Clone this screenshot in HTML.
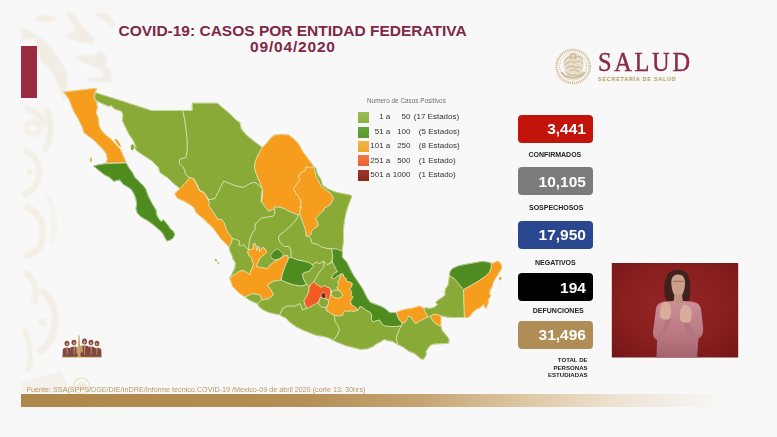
<!DOCTYPE html>
<html><head><meta charset="utf-8"><title>COVID-19</title>
<style>
html,body{margin:0;padding:0;background:#f7f7f7;}
body{width:777px;height:437px;position:relative;overflow:hidden;font-family:"Liberation Sans",sans-serif;}
.abs{position:absolute;white-space:nowrap;line-height:1;}
#slide{position:absolute;left:21px;top:12px;width:756px;height:395px;background:#f8f8f8;}
#bar{position:absolute;left:21px;top:46px;width:16px;height:52px;background:#9c2a40;}
#t1,#t2{color:#7f2846;font-weight:bold;font-size:15.5px;}
#t1{left:118.5px;top:23px;}
#t2{left:250px;top:39px;letter-spacing:0.82px;}
svg{position:absolute;left:0;top:0;}
.box{position:absolute;left:518.2px;width:74.8px;height:27.5px;border-radius:4px;color:#fff;font-weight:bold;font-size:15.5px;}
.box span{position:absolute;right:7px;top:6.3px;line-height:1;}
.lab{color:#222;font-weight:bold;font-size:7px;}
.lg{color:#333;font-size:8px;}
.sw{position:absolute;left:357.8px;width:11.4px;height:11px;}
#salud{left:598px;top:47.5px;font-family:"Liberation Serif",serif;font-size:28px;color:#8a2a46;letter-spacing:3.1px;-webkit-text-stroke:0.45px #8a2a46;transform:scaleX(0.87);transform-origin:0 0;}
#sec{left:598px;top:76.8px;font-size:5.5px;font-weight:bold;color:#b59c62;letter-spacing:0.72px;}
#fuente{left:26.7px;top:385.7px;font-size:7.19px;color:#b8965e;}
#gold{position:absolute;left:21.2px;top:394px;width:700px;height:12.8px;background:linear-gradient(90deg,#b0874a 0%,#b58e55 40%,#c5a473 57%,#dcc5a1 71%,#efe4d4 86%,#f7f7f7 100%);}
</style></head><body>
<div id="slide"></div>
<svg width="777" height="437" viewBox="0 0 777 437">
<defs><filter id="pb" x="-20%" y="-5%" width="140%" height="110%"><feGaussianBlur stdDeviation="0.9"/></filter></defs>
<g id="pattern" opacity="0.85" filter="url(#pb)">
<g fill="#f0ebe2" stroke="none">
<polygon points="21.2,27.3 30.4,31.2 40.7,37.6 49.7,46.6 57.5,56.9 62.6,64.0 66.5,70.3 67.8,79.3 66.5,89.6 64.5,102.5 60.0,89.6 54.9,78.0 48.5,67.7 40.7,60.0 36.2,46.6 36.2,38.9 21.2,38.9"/>
<ellipse cx="45.5" cy="18.6" rx="11.3" ry="3.6"/>
<polygon points="64.5,13.1 72.9,13.1 81.9,24.7 92.2,37.6 95.4,41.5 92.2,44.0 81.9,42.7 70.3,38.9 63.9,35.7 70.3,33.7 75.5,29.9 71.6,22.2"/>
<polygon points="93.5,13.1 107.7,13.1 115.0,22.2 115.0,28.6 105.1,20.9"/>
<polygon points="74.2,56.9 81.9,55.0 92.2,55.6 99.9,51.8 105.1,54.3 107.7,64.0 105.1,65.1 111.5,70.3 111.5,81.9 97.4,81.9 87.1,80.6 84.5,79.3 92.2,78.0 102.5,76.7 103.8,72.9 97.4,67.7 87.1,63.9 76.8,60.0 79.4,60.8"/>
</g>
<g fill="none" stroke="#efe9dd" stroke-linecap="butt" opacity="0.75">
<path d="M24 108 C34 110 42 116 46 126" stroke-width="6"/>
<circle cx="33" cy="128" r="6.5" stroke-width="5"/>
<path d="M46 108 C52 120 52 140 44 152" stroke-width="6"/>
<path d="M24 150 C36 154 42 166 38 180 C35 190 28 194 22 194" stroke-width="6"/>
<circle cx="30" cy="172" r="3" fill="#efe9dd" stroke="none"/>
<path d="M24 206 C38 210 46 224 42 240 C40 250 32 256 24 256" stroke-width="6"/>
<path d="M48 196 C54 208 56 226 52 244" stroke-width="5" opacity="0.7"/>
<path d="M24 272 C34 276 38 290 34 304" stroke-width="6"/>
<path d="M40 290 C52 296 58 312 54 330 C52 340 46 348 38 352" stroke-width="7"/>
<circle cx="42" cy="322" r="3.5" fill="#efe9dd" stroke="none"/>
<path d="M24 330 C30 340 32 356 28 372" stroke-width="5"/>
<path d="M22 382 L60 372 L72 392 L22 392 Z" fill="#efe9dd" stroke="none" opacity="0.8"/>
</g>
</g>
<g stroke="#e2ecc6" stroke-width="0.65" stroke-linejoin="round">
<polygon points="63.7,92.0 97.0,88.2 94.7,92.7 94.1,97.9 96.7,102.4 97.3,108.2 96.0,112.7 98.0,117.2 98.6,122.3 99.3,126.2 101.2,130.0 104.4,133.9 107.6,136.5 111.5,139.7 114.9,143.7 119.9,148.7 122.4,153.7 124.4,158.6 126.2,162.9 106.2,162.9 107.4,158.6 106.2,153.7 102.4,148.7 97.5,143.7 93.7,139.9 88.7,136.2 83.7,132.4 82.5,127.4 80.0,122.4 77.5,117.5 73.7,111.2 71.2,105.0 68.7,98.7" fill="#f79d1e" stroke="#f79d1e" stroke-width="0.9"/>
<polygon points="93.7,166.2 97.5,165.0 104.9,163.7 126.2,163.0 128.7,167.5 132.4,172.5 134.9,177.5 139.9,182.4 143.6,186.2 145.7,188.9 147.0,192.7 148.3,196.6 150.2,199.8 152.1,203.7 154.1,206.9 156.0,210.1 156.6,214.6 158.6,218.5 161.1,221.7 163.1,219.7 165.6,222.3 168.2,225.5 170.1,228.8 173.4,231.3 174.6,234.5 173.4,237.8 170.1,240.1 166.9,241.0 165.0,237.8 163.1,233.9 160.5,230.7 156.6,227.5 152.8,224.3 148.3,221.0 143.8,218.5 139.9,215.9 137.3,212.7 136.0,208.8 136.7,204.3 136.0,199.2 134.1,194.0 131.5,189.5 127.7,186.9 124.5,185.0 123.7,184.9 119.9,179.9 113.7,181.2 109.9,177.5 104.9,175.0 99.9,171.2" fill="#4f8c20" stroke="#4f8c20" stroke-width="0.9"/>
<polygon points="95.0,92.5 122.4,101.2 151.1,110.5 182.8,110.5 184.8,119.9 186.1,129.9 187.3,139.9 187.3,149.9 186.1,157.4 179.8,159.4 179.3,163.6 183.6,167.4 186.1,174.9 189.8,178.1 184.8,183.7 179.8,188.7 178.6,187.4 172.4,182.4 167.4,177.5 159.9,172.5 158.6,167.5 152.4,161.2 144.9,156.2 137.4,151.2 132.4,145.0 136.2,147.4 133.7,141.2 128.7,133.7 126.3,128.8 124.4,124.9 122.4,120.4 123.1,115.2 121.8,111.4 117.9,110.1 114.1,108.8 111.5,105.6 108.3,106.2 103.8,104.3 98.6,101.7 94.7,99.2" fill="#89aa37" stroke="#89aa37" stroke-width="0.9"/>
<polygon points="182.8,110.5 192.3,110.5 192.3,103.2 217.3,103.2 222.3,107.5 229.8,113.7 237.3,121.2 239.9,122.5 241.2,128.7 246.2,135.0 252.4,139.9 258.7,144.9 262.4,147.4 258.7,153.7 255.4,161.2 254.4,167.4 256.2,173.7 259.4,181.1 262.4,189.4 259.9,186.1 254.9,182.4 249.9,183.6 243.7,187.4 236.2,186.1 230.0,183.6 223.7,181.1 221.2,186.1 217.5,193.6 215.0,198.6 208.7,199.9 203.7,192.4 200.0,191.1 193.6,178.7 189.8,177.5 189.8,178.1 186.1,174.9 183.6,167.4 179.3,163.6 179.8,159.4 186.1,157.4 187.3,149.9 187.3,139.9 186.1,129.9 184.8,119.9" fill="#89aa37" stroke="#89aa37" stroke-width="0.9"/>
<polygon points="262.4,147.4 267.4,142.4 271.2,137.5 274.9,135.0 282.4,134.5 288.6,135.0 293.6,138.7 297.4,142.4 299.9,146.2 302.4,151.2 306.1,156.2 309.9,161.2 313.6,166.2 311.1,167.9 306.1,166.9 304.9,171.2 301.1,172.4 298.6,176.2 299.9,179.9 296.1,184.9 293.6,188.6 296.1,193.6 299.9,198.6 301.1,203.6 299.9,207.4 301.5,206.6 300.2,210.4 299.6,214.3 297.7,214.9 293.2,213.0 288.0,211.1 284.2,208.5 279.0,207.2 273.9,207.2 274.9,208.7 268.6,211.2 263.6,205.0 261.1,200.0 262.4,190.0 261.2,202.4 262.4,194.9 262.4,189.4 259.4,181.1 256.2,173.7 254.4,167.4 255.4,161.2 258.7,153.7" fill="#f79d1e" stroke="#f79d1e" stroke-width="0.9"/>
<polygon points="313.6,166.2 314.9,171.2 316.1,176.2 318.6,181.1 321.1,186.1 326.1,189.9 331.1,193.6 333.6,198.6 331.1,203.6 330.5,204.7 327.3,206.6 324.1,208.5 323.4,211.1 320.8,213.0 318.3,215.6 315.7,218.8 317.6,222.0 318.3,225.9 313.8,229.1 311.2,231.7 311.8,233.6 308.6,236.4 306.0,236.2 305.4,229.7 303.5,224.6 301.5,219.5 299.6,214.3 300.2,210.4 301.5,206.6 299.9,207.4 301.1,203.6 299.9,198.6 296.1,193.6 293.6,188.6 296.1,184.9 299.9,179.9 298.6,176.2 301.1,172.4 304.9,171.2 306.1,166.9 311.1,167.9" fill="#f79d1e" stroke="#f79d1e" stroke-width="0.9"/>
<polygon points="313.6,166.2 316.1,168.7 317.3,173.7 321.1,179.9 322.3,184.9 327.3,188.6 334.8,191.9 342.3,193.6 349.8,194.9 351.8,196.1 350.4,200.1 347.9,206.6 345.9,213.0 344.6,219.5 343.6,227.2 343.4,233.6 343.6,240.0 342.7,246.5 342.1,251.1 340.1,250.3 336.9,249.1 331.8,248.8 326.6,248.4 321.5,247.1 318.3,244.5 314.4,243.9 311.2,242.6 311.2,239.4 308.6,236.4 311.8,233.6 311.2,231.7 313.8,229.1 318.3,225.9 317.6,222.0 315.7,218.8 318.3,215.6 320.8,213.0 323.4,211.1 324.1,208.5 327.3,206.6 330.5,204.7 331.1,203.6 333.6,198.6 331.1,193.6 326.1,189.9 321.1,186.1 318.6,181.1 316.1,176.2 314.9,171.2" fill="#89aa37" stroke="#89aa37" stroke-width="0.9"/>
<polygon points="174.9,193.7 179.8,188.7 184.8,183.7 189.8,177.5 193.6,178.7 195.9,182.6 197.8,186.4 199.1,190.3 203.6,192.2 206.2,195.4 208.1,199.3 209.4,202.5 208.8,205.7 211.3,209.0 213.9,212.8 216.5,216.7 217.8,219.3 221.6,219.3 224.2,222.5 225.5,226.3 226.8,230.2 229.1,234.0 232.3,237.9 231.7,242.4 231.0,246.9 229.1,246.9 225.2,243.0 220.7,238.5 217.5,234.0 213.7,228.9 210.4,225.0 207.5,223.1 204.9,219.9 201.7,217.3 198.5,214.7 195.9,212.2 194.0,207.7 190.7,205.1 187.5,203.2 184.3,201.2 181.1,199.9 177.2,198.0" fill="#f79d1e" stroke="#f79d1e" stroke-width="0.9"/>
<polygon points="200.0,191.1 203.7,192.4 208.7,199.9 215.0,198.6 217.5,193.6 221.2,186.1 223.7,181.1 230.0,183.6 236.2,186.1 243.7,187.4 249.9,183.6 254.9,182.4 259.9,186.1 262.4,189.4 262.4,194.9 261.2,202.4 262.4,190.0 261.1,200.0 263.6,205.0 268.6,211.2 274.9,208.7 274.8,213.8 272.9,216.3 267.8,217.0 261.3,218.3 257.5,221.5 254.3,226.0 254.8,225.0 255.5,228.9 252.9,232.1 251.0,235.9 249.7,240.4 249.1,244.3 248.4,249.5 245.8,247.5 243.3,244.3 241.3,246.2 238.8,244.9 239.4,241.1 236.8,239.8 232.3,238.5 232.3,237.9 229.1,234.0 226.8,230.2 225.5,226.3 224.2,222.5 221.6,219.3 217.8,219.3 216.5,216.7 213.9,212.8 211.3,209.0 208.8,205.7 209.4,202.5 208.1,199.3 206.2,195.4 203.6,192.2 199.1,190.3 197.8,186.4 195.9,182.6 193.6,178.7" fill="#89aa37" stroke="#89aa37" stroke-width="0.9"/>
<polygon points="254.3,226.0 257.5,221.5 261.3,218.3 267.8,217.0 272.9,216.3 274.8,213.8 274.9,208.7 273.9,207.2 279.0,207.2 284.2,208.5 288.0,211.1 293.2,213.0 297.7,214.9 298.3,216.2 294.5,222.0 289.3,227.2 284.2,231.7 279.7,234.9 278.4,238.1 280.3,242.6 284.2,246.5 289.3,246.5 291.2,251.0 291.1,253.7 291.1,257.4 288.3,259.1 287.7,255.9 285.1,255.2 282.5,257.2 278.7,259.7 274.8,261.0 272.2,263.6 269.0,266.2 267.1,268.8 264.5,268.1 260.6,267.5 256.8,266.8 256.8,264.9 258.1,262.3 259.4,259.1 261.3,256.5 264.5,254.6 266.4,252.7 265.8,250.1 263.9,247.5 261.9,248.2 259.4,252.0 259.4,247.5 258.1,246.2 256.8,250.7 256.1,247.5 255.5,243.7 252.9,244.3 253.6,248.8 251.0,249.5 248.4,249.5 249.1,244.3 249.7,240.4 251.0,235.9 252.9,232.1 255.5,228.9 254.8,225.0" fill="#89aa37" stroke="#89aa37" stroke-width="0.9"/>
<polygon points="298.3,216.2 297.7,214.9 299.6,214.3 299.6,214.3 301.5,219.5 303.5,224.6 305.4,229.7 306.0,236.2 308.6,236.4 311.2,239.4 311.2,242.6 314.4,243.9 318.3,244.5 321.5,247.1 326.6,248.4 331.8,248.8 332.8,256.2 331.1,262.4 327.3,264.9 323.6,261.2 319.8,263.7 316.1,262.4 312.3,264.9 308.6,262.4 303.6,261.2 297.3,259.9 291.1,257.4 291.1,253.7 291.2,251.0 289.3,246.5 284.2,246.5 280.3,242.6 278.4,238.1 279.7,234.9 284.2,231.7 289.3,227.2 294.5,222.0 298.3,216.2" fill="#89aa37" stroke="#89aa37" stroke-width="0.9"/>
<polygon points="270.3,255.9 272.2,252.7 275.4,250.1 278.0,248.8 280.6,251.4 283.2,254.0 282.5,256.5 278.7,259.1 274.8,259.7 272.2,258.7" fill="#4f8c20" stroke="#4f8c20" stroke-width="0.9"/>
<polygon points="229.1,246.9 231.7,242.4 232.3,238.5 236.8,239.8 239.4,241.1 238.8,244.9 241.3,246.2 243.3,244.3 245.8,247.5 248.4,249.5 247.8,252.7 249.1,255.9 251.6,257.8 252.3,261.0 253.6,263.6 252.9,266.8 251.0,270.0 249.7,274.5 247.8,273.3 244.5,271.1 241.3,270.7 237.5,272.6 233.6,275.2 229.7,278.4 232.3,273.3 234.9,268.1 235.5,263.0 233.0,259.1 231.7,254.6 229.7,250.7" fill="#89aa37" stroke="#89aa37" stroke-width="0.9"/>
<polygon points="248.4,249.5 251.0,249.5 253.6,248.8 252.9,244.3 255.5,243.7 256.1,247.5 256.8,250.7 258.1,246.2 259.4,247.5 259.4,252.0 261.9,248.2 263.9,247.5 265.8,250.1 266.4,252.7 264.5,254.6 261.3,256.5 259.4,259.1 258.1,262.3 256.8,264.9 256.8,266.8 260.6,267.5 264.5,268.1 267.1,268.8 269.0,266.2 272.2,263.6 274.8,261.0 278.7,259.7 282.5,257.2 285.1,255.2 287.7,255.9 288.3,259.1 287.0,262.3 285.1,266.2 283.8,270.0 282.5,273.9 281.2,280.0 273.7,281.2 267.4,285.0 271.2,290.0 273.7,295.0 268.7,298.7 262.4,299.9 259.9,295.0 252.5,293.7 245.0,297.0 238.7,292.5 232.5,286.2 230.0,278.7 229.7,278.4 233.6,275.2 237.5,272.6 241.3,270.7 244.5,271.1 247.8,273.3 249.7,274.5 251.0,270.0 252.9,266.8 253.6,263.6 252.3,261.0 251.6,257.8 249.1,255.9 247.8,252.7" fill="#f79d1e" stroke="#f79d1e" stroke-width="0.9"/>
<polygon points="245.0,297.0 252.5,293.7 259.9,295.0 261.9,299.9 257.5,303.7 250.0,300.4" fill="#89aa37" stroke="#89aa37" stroke-width="0.9"/>
<polygon points="288.6,257.9 291.1,257.4 297.3,259.9 303.6,261.2 308.6,262.4 312.3,264.9 313.8,266.5 311.2,268.4 309.3,271.7 305.4,272.3 302.9,273.6 302.9,277.4 304.8,281.3 306.7,284.5 301.1,286.2 293.7,285.0 286.2,282.5 281.2,280.0 282.5,273.9 283.8,270.0 285.1,266.2 287.0,262.3 288.3,259.1" fill="#4f8c20" stroke="#4f8c20" stroke-width="0.9"/>
<polygon points="312.3,264.9 316.1,262.4 319.8,263.7 323.6,261.2 324.1,266.5 322.8,268.4 320.2,271.0 317.7,274.9 315.7,278.7 313.8,281.9 311.2,283.9 309.3,287.1 306.7,284.5 304.8,281.3 302.9,277.4 302.9,273.6 305.4,272.3 309.3,271.7 311.2,268.4 313.8,266.5" fill="#89aa37" stroke="#89aa37" stroke-width="0.9"/>
<polygon points="324.1,266.5 322.8,268.4 320.2,271.0 317.7,274.9 315.7,278.7 313.8,281.9 316.4,284.1 319.0,285.8 321.5,287.7 324.1,285.2 326.7,287.1 329.3,287.7 330.9,290.1 331.4,292.2 334.4,290.1 338.3,290.3 337.0,287.1 338.9,284.5 337.6,281.3 339.5,279.4 340.2,276.2 341.5,273.6 339.5,274.9 337.0,276.2 334.4,278.7 331.8,278.1 332.5,274.9 335.0,272.9 337.6,271.7 336.3,269.7 334.4,265.9 332.5,262.0 327.3,264.9 323.6,261.2" fill="#89aa37" stroke="#89aa37" stroke-width="0.9"/>
<polygon points="257.5,303.7 261.9,299.9 262.4,299.9 268.7,298.7 273.7,295.0 271.2,290.0 267.4,285.0 273.7,281.2 281.2,280.0 286.2,282.5 293.7,285.0 301.1,286.2 306.7,284.5 309.3,287.1 308.7,291.9 306.5,296.7 303.9,300.6 305.4,305.5 307.4,308.3 302.4,309.9 299.9,303.7 294.9,306.2 287.4,306.2 282.4,308.7 279.9,314.9 268.8,312.5 262.3,309.3 258.7,306.3" fill="#89aa37" stroke="#89aa37" stroke-width="0.9"/>
<polygon points="279.9,314.9 282.4,308.7 287.4,306.2 294.9,306.2 299.9,303.7 302.4,309.9 307.4,308.3 310.6,306.5 313.8,304.7 317.3,302.9 319.3,300.6 318.6,303.8 320.9,306.4 324.1,307.7 327.3,306.4 326.0,310.3 328.0,311.5 331.2,313.5 334.4,315.4 334.5,316.6 335.2,321.7 337.8,325.6 339.7,329.5 337.8,334.0 335.8,337.2 333.3,340.4 328.8,337.8 323.6,336.5 315.9,335.2 309.5,332.7 303.0,330.1 296.6,326.9 290.1,322.4 285.0,317.2 284.2,317.6" fill="#89aa37" stroke="#89aa37" stroke-width="0.9"/>
<polygon points="309.3,287.1 311.2,283.9 313.8,281.9 316.4,284.1 319.0,285.8 321.5,287.7 324.1,285.2 326.7,287.1 329.3,287.7 330.9,290.1 330.7,294.2 329.9,298.3 328.4,300.1 326.3,299.3 326.0,298.0 323.7,298.7 321.3,297.4 320.2,298.0 319.3,300.6 317.3,302.9 313.8,304.7 310.6,306.5 307.4,308.3 305.4,305.5 303.9,300.6 306.5,296.7 308.7,291.9" fill="#f25c22" stroke="#f25c22" stroke-width="0.9"/>
<polygon points="320.9,294.8 323.7,292.2 325.8,294.2 326.0,298.0 323.7,298.7 321.3,297.4" fill="#8c1f14" stroke="#8c1f14" stroke-width="0.9"/>
<polygon points="319.3,300.6 320.2,298.0 321.3,297.4 323.7,298.7 326.0,298.0 326.3,299.3 328.4,300.1 328.6,303.2 327.3,306.4 324.1,307.7 320.9,306.4 318.6,303.8" fill="#89aa37" stroke="#89aa37" stroke-width="0.9"/>
<polygon points="331.4,292.2 334.4,290.1 338.3,290.3 341.5,292.2 342.8,295.5 340.8,297.4 337.6,298.3 333.8,297.4 331.4,294.8" fill="#89aa37" stroke="#89aa37" stroke-width="0.9"/>
<polygon points="341.5,273.6 343.4,274.2 344.1,277.4 346.0,278.1 346.6,281.3 349.8,281.9 352.4,283.2 351.8,286.5 349.8,289.0 351.8,292.2 351.1,295.5 353.1,296.7 351.8,299.3 350.5,301.9 351.8,305.1 354.4,306.4 356.9,308.3 358.0,310.3 354.4,311.5 350.5,310.9 347.9,311.5 345.3,310.9 343.4,312.8 342.8,315.4 338.9,316.1 334.4,315.4 331.2,313.5 328.0,311.5 326.0,310.3 327.3,306.4 328.6,303.2 328.4,300.1 329.9,298.3 330.7,294.2 330.9,290.1 331.4,292.2 331.4,294.8 333.8,297.4 337.6,298.3 340.8,297.4 342.8,295.5 341.5,292.2 338.3,290.3 337.0,287.1 338.9,284.5 337.6,281.3 339.5,279.4 340.2,276.2" fill="#f79d1e" stroke="#f79d1e" stroke-width="0.9"/>
<polygon points="331.8,248.8 336.9,249.1 340.1,250.3 342.1,251.1 342.3,257.4 346.6,262.0 349.2,267.1 351.8,272.3 354.4,276.8 357.6,281.3 360.1,285.2 362.7,289.0 364.6,292.9 367.2,298.0 370.1,302.2 374.9,304.2 380.1,306.0 384.6,308.3 390.0,312.8 396.4,312.4 397.7,316.9 399.6,320.1 402.2,323.3 401.5,325.9 397.0,326.5 389.3,326.5 384.2,325.9 380.9,322.7 379.7,320.1 376.4,320.7 373.2,322.0 371.3,319.5 371.7,314.8 369.8,312.2 365.9,310.3 362.7,307.7 360.1,306.4 358.0,310.3 356.9,308.3 354.4,306.4 351.8,305.1 350.5,301.9 351.8,299.3 353.1,296.7 351.1,295.5 351.8,292.2 349.8,289.0 351.8,286.5 352.4,283.2 349.8,281.9 346.6,281.3 346.0,278.1 344.1,277.4 343.4,274.2 341.5,273.6 339.5,274.9 337.0,276.2 334.4,278.7 331.8,278.1 332.5,274.9 335.0,272.9 337.6,271.7 336.3,269.7 334.4,265.9 332.5,262.0 332.8,256.2" fill="#4f8c20" stroke="#4f8c20" stroke-width="0.9"/>
<polygon points="334.4,315.4 338.9,316.1 342.8,315.4 343.4,312.8 345.3,310.9 347.9,311.5 350.5,310.9 354.4,311.5 358.0,310.3 360.1,306.4 362.7,307.7 365.9,310.3 369.8,312.2 371.7,314.8 371.3,319.5 373.2,322.0 376.4,320.7 379.7,320.1 380.9,322.7 384.2,325.9 389.3,326.5 397.0,326.5 401.5,325.9 399.6,329.1 397.7,333.6 396.4,337.5 397.0,341.3 397.7,344.5 392.5,341.3 388.0,340.7 384.2,339.4 380.3,342.0 375.1,344.5 373.8,346.2 367.4,348.8 360.9,349.4 353.2,347.5 345.5,345.5 339.1,343.0 333.3,340.4 335.8,337.2 337.8,334.0 339.7,329.5 337.8,325.6 335.2,321.7 334.5,316.6" fill="#89aa37" stroke="#89aa37" stroke-width="0.9"/>
<polygon points="430.5,316.2 433.1,314.3 436.9,314.3 440.8,315.6 441.0,320.7 440.8,325.9 437.6,325.2 434.4,322.7 431.8,319.5" fill="#f79d1e" stroke="#f79d1e" stroke-width="0.9"/>
<polygon points="396.4,312.4 400.9,310.4 406.0,309.2 411.2,308.5 415.7,307.2 419.5,305.9 421.5,307.2 424.1,307.9 424.7,311.1 426.6,314.3 428.6,316.9 425.3,318.2 421.5,320.1 418.3,322.0 415.7,324.0 413.1,320.7 411.2,317.5 408.6,316.2 407.3,318.8 404.7,322.7 402.2,323.3 399.6,320.1 397.7,316.9" fill="#f79d1e" stroke="#f79d1e" stroke-width="0.9"/>
<polygon points="402.2,323.3 404.7,322.7 407.3,318.8 408.6,316.2 411.2,317.5 413.1,320.7 415.7,324.0 418.3,322.0 421.5,320.1 425.3,318.2 428.6,316.9 430.5,316.2 431.8,319.5 434.4,322.7 437.6,325.2 440.8,325.9 442.1,330.4 445.3,334.3 447.9,337.5 449.2,340.0 448.5,343.3 442.1,343.6 434.4,343.9 430.5,345.2 427.9,348.4 426.0,351.1 426.2,354.9 423.7,359.1 421.2,359.1 414.9,353.6 408.6,351.1 406.0,349.1 402.2,346.5 397.7,344.5 397.0,341.3 396.4,337.5 397.7,333.6 399.6,329.1 401.5,325.9" fill="#89aa37" stroke="#89aa37" stroke-width="0.9"/>
<polygon points="449.5,275.6 454.0,278.2 457.8,282.7 461.0,286.5 463.6,289.7 464.4,317.4 463.3,317.5 454.9,317.5 447.2,317.1 440.8,315.6 436.9,314.3 433.1,314.3 430.5,316.2 428.6,316.9 426.6,314.3 424.7,311.1 424.1,307.9 426.6,307.9 429.8,308.5 434.4,307.2 437.6,304.7 435.6,302.5 438.2,300.1 442.1,297.6 445.3,295.0 444.9,292.3 445.6,288.5 448.2,285.2 448.8,280.7" fill="#89aa37" stroke="#89aa37" stroke-width="0.9"/>
<polygon points="450.1,271.7 452.7,268.5 458.5,265.9 466.2,264.3 475.2,262.7 482.9,261.4 489.4,262.5 491.3,263.4 491.3,267.9 489.4,272.4 485.5,276.2 479.1,280.7 471.3,285.2 463.6,289.7 461.0,286.5 457.8,282.7 454.0,278.2 449.5,275.6" fill="#4f8c20" stroke="#4f8c20" stroke-width="0.9"/>
<polygon points="491.3,263.4 494.5,262.7 497.1,261.2 499.6,262.1 501.6,265.3 501.6,268.5 499.6,271.7 497.7,274.9 495.1,278.8 493.2,282.7 491.9,287.2 490.0,290.4 489.4,293.6 490.9,295.9 488.7,298.8 488.1,303.3 486.1,308.4 484.2,306.5 483.6,303.9 481.6,306.5 479.1,308.4 476.5,309.1 473.9,311.1 468.6,317.4 464.4,317.4 463.6,289.7 471.3,285.2 479.1,280.7 485.5,276.2 489.4,272.4 491.3,267.9" fill="#f79d1e" stroke="#f79d1e" stroke-width="0.9"/>
<polygon points="63.7,92.0 97.0,88.2 94.7,92.7 94.1,97.9 96.7,102.4 97.3,108.2 96.0,112.7 98.0,117.2 98.6,122.3 99.3,126.2 101.2,130.0 104.4,133.9 107.6,136.5 111.5,139.7 114.9,143.7 119.9,148.7 122.4,153.7 124.4,158.6 126.2,162.9 106.2,162.9 107.4,158.6 106.2,153.7 102.4,148.7 97.5,143.7 93.7,139.9 88.7,136.2 83.7,132.4 82.5,127.4 80.0,122.4 77.5,117.5 73.7,111.2 71.2,105.0 68.7,98.7" fill="#f79d1e"/>
<polygon points="93.7,166.2 97.5,165.0 104.9,163.7 126.2,163.0 128.7,167.5 132.4,172.5 134.9,177.5 139.9,182.4 143.6,186.2 145.7,188.9 147.0,192.7 148.3,196.6 150.2,199.8 152.1,203.7 154.1,206.9 156.0,210.1 156.6,214.6 158.6,218.5 161.1,221.7 163.1,219.7 165.6,222.3 168.2,225.5 170.1,228.8 173.4,231.3 174.6,234.5 173.4,237.8 170.1,240.1 166.9,241.0 165.0,237.8 163.1,233.9 160.5,230.7 156.6,227.5 152.8,224.3 148.3,221.0 143.8,218.5 139.9,215.9 137.3,212.7 136.0,208.8 136.7,204.3 136.0,199.2 134.1,194.0 131.5,189.5 127.7,186.9 124.5,185.0 123.7,184.9 119.9,179.9 113.7,181.2 109.9,177.5 104.9,175.0 99.9,171.2" fill="#4f8c20"/>
<polygon points="95.0,92.5 122.4,101.2 151.1,110.5 182.8,110.5 184.8,119.9 186.1,129.9 187.3,139.9 187.3,149.9 186.1,157.4 179.8,159.4 179.3,163.6 183.6,167.4 186.1,174.9 189.8,178.1 184.8,183.7 179.8,188.7 178.6,187.4 172.4,182.4 167.4,177.5 159.9,172.5 158.6,167.5 152.4,161.2 144.9,156.2 137.4,151.2 132.4,145.0 136.2,147.4 133.7,141.2 128.7,133.7 126.3,128.8 124.4,124.9 122.4,120.4 123.1,115.2 121.8,111.4 117.9,110.1 114.1,108.8 111.5,105.6 108.3,106.2 103.8,104.3 98.6,101.7 94.7,99.2" fill="#89aa37"/>
<polygon points="182.8,110.5 192.3,110.5 192.3,103.2 217.3,103.2 222.3,107.5 229.8,113.7 237.3,121.2 239.9,122.5 241.2,128.7 246.2,135.0 252.4,139.9 258.7,144.9 262.4,147.4 258.7,153.7 255.4,161.2 254.4,167.4 256.2,173.7 259.4,181.1 262.4,189.4 259.9,186.1 254.9,182.4 249.9,183.6 243.7,187.4 236.2,186.1 230.0,183.6 223.7,181.1 221.2,186.1 217.5,193.6 215.0,198.6 208.7,199.9 203.7,192.4 200.0,191.1 193.6,178.7 189.8,177.5 189.8,178.1 186.1,174.9 183.6,167.4 179.3,163.6 179.8,159.4 186.1,157.4 187.3,149.9 187.3,139.9 186.1,129.9 184.8,119.9" fill="#89aa37"/>
<polygon points="262.4,147.4 267.4,142.4 271.2,137.5 274.9,135.0 282.4,134.5 288.6,135.0 293.6,138.7 297.4,142.4 299.9,146.2 302.4,151.2 306.1,156.2 309.9,161.2 313.6,166.2 311.1,167.9 306.1,166.9 304.9,171.2 301.1,172.4 298.6,176.2 299.9,179.9 296.1,184.9 293.6,188.6 296.1,193.6 299.9,198.6 301.1,203.6 299.9,207.4 301.5,206.6 300.2,210.4 299.6,214.3 297.7,214.9 293.2,213.0 288.0,211.1 284.2,208.5 279.0,207.2 273.9,207.2 274.9,208.7 268.6,211.2 263.6,205.0 261.1,200.0 262.4,190.0 261.2,202.4 262.4,194.9 262.4,189.4 259.4,181.1 256.2,173.7 254.4,167.4 255.4,161.2 258.7,153.7" fill="#f79d1e"/>
<polygon points="313.6,166.2 314.9,171.2 316.1,176.2 318.6,181.1 321.1,186.1 326.1,189.9 331.1,193.6 333.6,198.6 331.1,203.6 330.5,204.7 327.3,206.6 324.1,208.5 323.4,211.1 320.8,213.0 318.3,215.6 315.7,218.8 317.6,222.0 318.3,225.9 313.8,229.1 311.2,231.7 311.8,233.6 308.6,236.4 306.0,236.2 305.4,229.7 303.5,224.6 301.5,219.5 299.6,214.3 300.2,210.4 301.5,206.6 299.9,207.4 301.1,203.6 299.9,198.6 296.1,193.6 293.6,188.6 296.1,184.9 299.9,179.9 298.6,176.2 301.1,172.4 304.9,171.2 306.1,166.9 311.1,167.9" fill="#f79d1e"/>
<polygon points="313.6,166.2 316.1,168.7 317.3,173.7 321.1,179.9 322.3,184.9 327.3,188.6 334.8,191.9 342.3,193.6 349.8,194.9 351.8,196.1 350.4,200.1 347.9,206.6 345.9,213.0 344.6,219.5 343.6,227.2 343.4,233.6 343.6,240.0 342.7,246.5 342.1,251.1 340.1,250.3 336.9,249.1 331.8,248.8 326.6,248.4 321.5,247.1 318.3,244.5 314.4,243.9 311.2,242.6 311.2,239.4 308.6,236.4 311.8,233.6 311.2,231.7 313.8,229.1 318.3,225.9 317.6,222.0 315.7,218.8 318.3,215.6 320.8,213.0 323.4,211.1 324.1,208.5 327.3,206.6 330.5,204.7 331.1,203.6 333.6,198.6 331.1,193.6 326.1,189.9 321.1,186.1 318.6,181.1 316.1,176.2 314.9,171.2" fill="#89aa37"/>
<polygon points="174.9,193.7 179.8,188.7 184.8,183.7 189.8,177.5 193.6,178.7 195.9,182.6 197.8,186.4 199.1,190.3 203.6,192.2 206.2,195.4 208.1,199.3 209.4,202.5 208.8,205.7 211.3,209.0 213.9,212.8 216.5,216.7 217.8,219.3 221.6,219.3 224.2,222.5 225.5,226.3 226.8,230.2 229.1,234.0 232.3,237.9 231.7,242.4 231.0,246.9 229.1,246.9 225.2,243.0 220.7,238.5 217.5,234.0 213.7,228.9 210.4,225.0 207.5,223.1 204.9,219.9 201.7,217.3 198.5,214.7 195.9,212.2 194.0,207.7 190.7,205.1 187.5,203.2 184.3,201.2 181.1,199.9 177.2,198.0" fill="#f79d1e"/>
<polygon points="200.0,191.1 203.7,192.4 208.7,199.9 215.0,198.6 217.5,193.6 221.2,186.1 223.7,181.1 230.0,183.6 236.2,186.1 243.7,187.4 249.9,183.6 254.9,182.4 259.9,186.1 262.4,189.4 262.4,194.9 261.2,202.4 262.4,190.0 261.1,200.0 263.6,205.0 268.6,211.2 274.9,208.7 274.8,213.8 272.9,216.3 267.8,217.0 261.3,218.3 257.5,221.5 254.3,226.0 254.8,225.0 255.5,228.9 252.9,232.1 251.0,235.9 249.7,240.4 249.1,244.3 248.4,249.5 245.8,247.5 243.3,244.3 241.3,246.2 238.8,244.9 239.4,241.1 236.8,239.8 232.3,238.5 232.3,237.9 229.1,234.0 226.8,230.2 225.5,226.3 224.2,222.5 221.6,219.3 217.8,219.3 216.5,216.7 213.9,212.8 211.3,209.0 208.8,205.7 209.4,202.5 208.1,199.3 206.2,195.4 203.6,192.2 199.1,190.3 197.8,186.4 195.9,182.6 193.6,178.7" fill="#89aa37"/>
<polygon points="254.3,226.0 257.5,221.5 261.3,218.3 267.8,217.0 272.9,216.3 274.8,213.8 274.9,208.7 273.9,207.2 279.0,207.2 284.2,208.5 288.0,211.1 293.2,213.0 297.7,214.9 298.3,216.2 294.5,222.0 289.3,227.2 284.2,231.7 279.7,234.9 278.4,238.1 280.3,242.6 284.2,246.5 289.3,246.5 291.2,251.0 291.1,253.7 291.1,257.4 288.3,259.1 287.7,255.9 285.1,255.2 282.5,257.2 278.7,259.7 274.8,261.0 272.2,263.6 269.0,266.2 267.1,268.8 264.5,268.1 260.6,267.5 256.8,266.8 256.8,264.9 258.1,262.3 259.4,259.1 261.3,256.5 264.5,254.6 266.4,252.7 265.8,250.1 263.9,247.5 261.9,248.2 259.4,252.0 259.4,247.5 258.1,246.2 256.8,250.7 256.1,247.5 255.5,243.7 252.9,244.3 253.6,248.8 251.0,249.5 248.4,249.5 249.1,244.3 249.7,240.4 251.0,235.9 252.9,232.1 255.5,228.9 254.8,225.0" fill="#89aa37"/>
<polygon points="298.3,216.2 297.7,214.9 299.6,214.3 299.6,214.3 301.5,219.5 303.5,224.6 305.4,229.7 306.0,236.2 308.6,236.4 311.2,239.4 311.2,242.6 314.4,243.9 318.3,244.5 321.5,247.1 326.6,248.4 331.8,248.8 332.8,256.2 331.1,262.4 327.3,264.9 323.6,261.2 319.8,263.7 316.1,262.4 312.3,264.9 308.6,262.4 303.6,261.2 297.3,259.9 291.1,257.4 291.1,253.7 291.2,251.0 289.3,246.5 284.2,246.5 280.3,242.6 278.4,238.1 279.7,234.9 284.2,231.7 289.3,227.2 294.5,222.0 298.3,216.2" fill="#89aa37"/>
<polygon points="270.3,255.9 272.2,252.7 275.4,250.1 278.0,248.8 280.6,251.4 283.2,254.0 282.5,256.5 278.7,259.1 274.8,259.7 272.2,258.7" fill="#4f8c20"/>
<polygon points="229.1,246.9 231.7,242.4 232.3,238.5 236.8,239.8 239.4,241.1 238.8,244.9 241.3,246.2 243.3,244.3 245.8,247.5 248.4,249.5 247.8,252.7 249.1,255.9 251.6,257.8 252.3,261.0 253.6,263.6 252.9,266.8 251.0,270.0 249.7,274.5 247.8,273.3 244.5,271.1 241.3,270.7 237.5,272.6 233.6,275.2 229.7,278.4 232.3,273.3 234.9,268.1 235.5,263.0 233.0,259.1 231.7,254.6 229.7,250.7" fill="#89aa37"/>
<polygon points="248.4,249.5 251.0,249.5 253.6,248.8 252.9,244.3 255.5,243.7 256.1,247.5 256.8,250.7 258.1,246.2 259.4,247.5 259.4,252.0 261.9,248.2 263.9,247.5 265.8,250.1 266.4,252.7 264.5,254.6 261.3,256.5 259.4,259.1 258.1,262.3 256.8,264.9 256.8,266.8 260.6,267.5 264.5,268.1 267.1,268.8 269.0,266.2 272.2,263.6 274.8,261.0 278.7,259.7 282.5,257.2 285.1,255.2 287.7,255.9 288.3,259.1 287.0,262.3 285.1,266.2 283.8,270.0 282.5,273.9 281.2,280.0 273.7,281.2 267.4,285.0 271.2,290.0 273.7,295.0 268.7,298.7 262.4,299.9 259.9,295.0 252.5,293.7 245.0,297.0 238.7,292.5 232.5,286.2 230.0,278.7 229.7,278.4 233.6,275.2 237.5,272.6 241.3,270.7 244.5,271.1 247.8,273.3 249.7,274.5 251.0,270.0 252.9,266.8 253.6,263.6 252.3,261.0 251.6,257.8 249.1,255.9 247.8,252.7" fill="#f79d1e"/>
<polygon points="245.0,297.0 252.5,293.7 259.9,295.0 261.9,299.9 257.5,303.7 250.0,300.4" fill="#89aa37"/>
<polygon points="288.6,257.9 291.1,257.4 297.3,259.9 303.6,261.2 308.6,262.4 312.3,264.9 313.8,266.5 311.2,268.4 309.3,271.7 305.4,272.3 302.9,273.6 302.9,277.4 304.8,281.3 306.7,284.5 301.1,286.2 293.7,285.0 286.2,282.5 281.2,280.0 282.5,273.9 283.8,270.0 285.1,266.2 287.0,262.3 288.3,259.1" fill="#4f8c20"/>
<polygon points="312.3,264.9 316.1,262.4 319.8,263.7 323.6,261.2 324.1,266.5 322.8,268.4 320.2,271.0 317.7,274.9 315.7,278.7 313.8,281.9 311.2,283.9 309.3,287.1 306.7,284.5 304.8,281.3 302.9,277.4 302.9,273.6 305.4,272.3 309.3,271.7 311.2,268.4 313.8,266.5" fill="#89aa37"/>
<polygon points="324.1,266.5 322.8,268.4 320.2,271.0 317.7,274.9 315.7,278.7 313.8,281.9 316.4,284.1 319.0,285.8 321.5,287.7 324.1,285.2 326.7,287.1 329.3,287.7 330.9,290.1 331.4,292.2 334.4,290.1 338.3,290.3 337.0,287.1 338.9,284.5 337.6,281.3 339.5,279.4 340.2,276.2 341.5,273.6 339.5,274.9 337.0,276.2 334.4,278.7 331.8,278.1 332.5,274.9 335.0,272.9 337.6,271.7 336.3,269.7 334.4,265.9 332.5,262.0 327.3,264.9 323.6,261.2" fill="#89aa37"/>
<polygon points="257.5,303.7 261.9,299.9 262.4,299.9 268.7,298.7 273.7,295.0 271.2,290.0 267.4,285.0 273.7,281.2 281.2,280.0 286.2,282.5 293.7,285.0 301.1,286.2 306.7,284.5 309.3,287.1 308.7,291.9 306.5,296.7 303.9,300.6 305.4,305.5 307.4,308.3 302.4,309.9 299.9,303.7 294.9,306.2 287.4,306.2 282.4,308.7 279.9,314.9 268.8,312.5 262.3,309.3 258.7,306.3" fill="#89aa37"/>
<polygon points="279.9,314.9 282.4,308.7 287.4,306.2 294.9,306.2 299.9,303.7 302.4,309.9 307.4,308.3 310.6,306.5 313.8,304.7 317.3,302.9 319.3,300.6 318.6,303.8 320.9,306.4 324.1,307.7 327.3,306.4 326.0,310.3 328.0,311.5 331.2,313.5 334.4,315.4 334.5,316.6 335.2,321.7 337.8,325.6 339.7,329.5 337.8,334.0 335.8,337.2 333.3,340.4 328.8,337.8 323.6,336.5 315.9,335.2 309.5,332.7 303.0,330.1 296.6,326.9 290.1,322.4 285.0,317.2 284.2,317.6" fill="#89aa37"/>
<polygon points="309.3,287.1 311.2,283.9 313.8,281.9 316.4,284.1 319.0,285.8 321.5,287.7 324.1,285.2 326.7,287.1 329.3,287.7 330.9,290.1 330.7,294.2 329.9,298.3 328.4,300.1 326.3,299.3 326.0,298.0 323.7,298.7 321.3,297.4 320.2,298.0 319.3,300.6 317.3,302.9 313.8,304.7 310.6,306.5 307.4,308.3 305.4,305.5 303.9,300.6 306.5,296.7 308.7,291.9" fill="#f25c22"/>
<polygon points="320.9,294.8 323.7,292.2 325.8,294.2 326.0,298.0 323.7,298.7 321.3,297.4" fill="#8c1f14"/>
<polygon points="319.3,300.6 320.2,298.0 321.3,297.4 323.7,298.7 326.0,298.0 326.3,299.3 328.4,300.1 328.6,303.2 327.3,306.4 324.1,307.7 320.9,306.4 318.6,303.8" fill="#89aa37"/>
<polygon points="331.4,292.2 334.4,290.1 338.3,290.3 341.5,292.2 342.8,295.5 340.8,297.4 337.6,298.3 333.8,297.4 331.4,294.8" fill="#89aa37"/>
<polygon points="341.5,273.6 343.4,274.2 344.1,277.4 346.0,278.1 346.6,281.3 349.8,281.9 352.4,283.2 351.8,286.5 349.8,289.0 351.8,292.2 351.1,295.5 353.1,296.7 351.8,299.3 350.5,301.9 351.8,305.1 354.4,306.4 356.9,308.3 358.0,310.3 354.4,311.5 350.5,310.9 347.9,311.5 345.3,310.9 343.4,312.8 342.8,315.4 338.9,316.1 334.4,315.4 331.2,313.5 328.0,311.5 326.0,310.3 327.3,306.4 328.6,303.2 328.4,300.1 329.9,298.3 330.7,294.2 330.9,290.1 331.4,292.2 331.4,294.8 333.8,297.4 337.6,298.3 340.8,297.4 342.8,295.5 341.5,292.2 338.3,290.3 337.0,287.1 338.9,284.5 337.6,281.3 339.5,279.4 340.2,276.2" fill="#f79d1e"/>
<polygon points="331.8,248.8 336.9,249.1 340.1,250.3 342.1,251.1 342.3,257.4 346.6,262.0 349.2,267.1 351.8,272.3 354.4,276.8 357.6,281.3 360.1,285.2 362.7,289.0 364.6,292.9 367.2,298.0 370.1,302.2 374.9,304.2 380.1,306.0 384.6,308.3 390.0,312.8 396.4,312.4 397.7,316.9 399.6,320.1 402.2,323.3 401.5,325.9 397.0,326.5 389.3,326.5 384.2,325.9 380.9,322.7 379.7,320.1 376.4,320.7 373.2,322.0 371.3,319.5 371.7,314.8 369.8,312.2 365.9,310.3 362.7,307.7 360.1,306.4 358.0,310.3 356.9,308.3 354.4,306.4 351.8,305.1 350.5,301.9 351.8,299.3 353.1,296.7 351.1,295.5 351.8,292.2 349.8,289.0 351.8,286.5 352.4,283.2 349.8,281.9 346.6,281.3 346.0,278.1 344.1,277.4 343.4,274.2 341.5,273.6 339.5,274.9 337.0,276.2 334.4,278.7 331.8,278.1 332.5,274.9 335.0,272.9 337.6,271.7 336.3,269.7 334.4,265.9 332.5,262.0 332.8,256.2" fill="#4f8c20"/>
<polygon points="334.4,315.4 338.9,316.1 342.8,315.4 343.4,312.8 345.3,310.9 347.9,311.5 350.5,310.9 354.4,311.5 358.0,310.3 360.1,306.4 362.7,307.7 365.9,310.3 369.8,312.2 371.7,314.8 371.3,319.5 373.2,322.0 376.4,320.7 379.7,320.1 380.9,322.7 384.2,325.9 389.3,326.5 397.0,326.5 401.5,325.9 399.6,329.1 397.7,333.6 396.4,337.5 397.0,341.3 397.7,344.5 392.5,341.3 388.0,340.7 384.2,339.4 380.3,342.0 375.1,344.5 373.8,346.2 367.4,348.8 360.9,349.4 353.2,347.5 345.5,345.5 339.1,343.0 333.3,340.4 335.8,337.2 337.8,334.0 339.7,329.5 337.8,325.6 335.2,321.7 334.5,316.6" fill="#89aa37"/>
<polygon points="430.5,316.2 433.1,314.3 436.9,314.3 440.8,315.6 441.0,320.7 440.8,325.9 437.6,325.2 434.4,322.7 431.8,319.5" fill="#f79d1e"/>
<polygon points="396.4,312.4 400.9,310.4 406.0,309.2 411.2,308.5 415.7,307.2 419.5,305.9 421.5,307.2 424.1,307.9 424.7,311.1 426.6,314.3 428.6,316.9 425.3,318.2 421.5,320.1 418.3,322.0 415.7,324.0 413.1,320.7 411.2,317.5 408.6,316.2 407.3,318.8 404.7,322.7 402.2,323.3 399.6,320.1 397.7,316.9" fill="#f79d1e"/>
<polygon points="402.2,323.3 404.7,322.7 407.3,318.8 408.6,316.2 411.2,317.5 413.1,320.7 415.7,324.0 418.3,322.0 421.5,320.1 425.3,318.2 428.6,316.9 430.5,316.2 431.8,319.5 434.4,322.7 437.6,325.2 440.8,325.9 442.1,330.4 445.3,334.3 447.9,337.5 449.2,340.0 448.5,343.3 442.1,343.6 434.4,343.9 430.5,345.2 427.9,348.4 426.0,351.1 426.2,354.9 423.7,359.1 421.2,359.1 414.9,353.6 408.6,351.1 406.0,349.1 402.2,346.5 397.7,344.5 397.0,341.3 396.4,337.5 397.7,333.6 399.6,329.1 401.5,325.9" fill="#89aa37"/>
<polygon points="449.5,275.6 454.0,278.2 457.8,282.7 461.0,286.5 463.6,289.7 464.4,317.4 463.3,317.5 454.9,317.5 447.2,317.1 440.8,315.6 436.9,314.3 433.1,314.3 430.5,316.2 428.6,316.9 426.6,314.3 424.7,311.1 424.1,307.9 426.6,307.9 429.8,308.5 434.4,307.2 437.6,304.7 435.6,302.5 438.2,300.1 442.1,297.6 445.3,295.0 444.9,292.3 445.6,288.5 448.2,285.2 448.8,280.7" fill="#89aa37"/>
<polygon points="450.1,271.7 452.7,268.5 458.5,265.9 466.2,264.3 475.2,262.7 482.9,261.4 489.4,262.5 491.3,263.4 491.3,267.9 489.4,272.4 485.5,276.2 479.1,280.7 471.3,285.2 463.6,289.7 461.0,286.5 457.8,282.7 454.0,278.2 449.5,275.6" fill="#4f8c20"/>
<polygon points="491.3,263.4 494.5,262.7 497.1,261.2 499.6,262.1 501.6,265.3 501.6,268.5 499.6,271.7 497.7,274.9 495.1,278.8 493.2,282.7 491.9,287.2 490.0,290.4 489.4,293.6 490.9,295.9 488.7,298.8 488.1,303.3 486.1,308.4 484.2,306.5 483.6,303.9 481.6,306.5 479.1,308.4 476.5,309.1 473.9,311.1 468.6,317.4 464.4,317.4 463.6,289.7 471.3,285.2 479.1,280.7 485.5,276.2 489.4,272.4 491.3,267.9" fill="#f79d1e"/>
<polygon points="214.6,259.5 216.4,259.2 217.1,260.8 215.6,261.6" fill="#89aa37" stroke="none"/>
<polygon points="217.4,262.3 218.7,262.1 219.2,263.4 217.9,263.6" fill="#89aa37" stroke="none"/>
<polygon points="499.4,277.1 501.2,276.9 501.7,278.2 500.3,280.2 499.1,279.7" fill="#f79d1e" stroke="none"/>
<polygon points="130.7,145.4 132.9,143.9 134.4,146.9 132.9,150.4 130.9,149.4" fill="#89aa37" stroke="none"/>
<polygon points="114.4,139.4 116.4,138.9 119.9,143.7 121.2,146.9 118.9,145.9 116.4,142.4" fill="#f79d1e" stroke="none"/>
<polygon points="90.0,157.9 91.5,157.4 92.0,161.4 90.5,161.9" fill="#f79d1e" stroke="none"/>
</g>
<!-- seal -->
<g id="seal" fill="none" stroke="#c4ae80">
<circle cx="573.1" cy="66.5" r="16.6" stroke-width="2.6" stroke-dasharray="1.1 0.9" opacity="0.8"/>
<circle cx="573.1" cy="66.5" r="13.6" stroke-width="0.5" opacity="0.8"/>
<path d="M563.5 63 C565 56 571 53.5 574 54 C579 53.5 583 57 583.5 63 C584 69 580 75 573.5 76 C567 76 563 70 563.5 63 Z" fill="#c4ae80" stroke="none" opacity="0.32"/>
<g opacity="0.75" stroke-width="1.1" stroke-linecap="round">
<path d="M564 62 C566 57 570 56 573 58 C576 55 581 56 583 60"/>
<path d="M565 65 C568 61 572 61 574 63 C577 60 581 61 583 64"/>
<path d="M567 68 C570 65 574 66 576 68 C578 66 581 67 582 69"/>
<path d="M570 71 C573 69 577 70 579 72"/>
<path d="M571 59 C569 56 570 54 573 54 C576 54 577 57 575 59" stroke-width="1.3"/>
<path d="M566 72 C568 75 572 76 575 75 C578 76 581 74 582 72" stroke-width="1.4"/>
</g>
<path d="M561.5 72 C565 79.5 581 79.5 584.7 72" stroke-width="2" opacity="0.85"/>
</g>
<!-- video -->
<defs>
<radialGradient id="vg" cx="0.5" cy="0.45" r="0.75"><stop offset="0" stop-color="#962625"/><stop offset="0.55" stop-color="#891f1f"/><stop offset="1" stop-color="#741617"/></radialGradient>
<linearGradient id="sw" x1="0" y1="0" x2="0" y2="1"><stop offset="0" stop-color="#cb8f96"/><stop offset="0.5" stop-color="#bd7c86"/><stop offset="1" stop-color="#a3626d"/></linearGradient>
<clipPath id="vc"><rect x="611.8" y="263" width="126.4" height="94.5"/></clipPath>
<filter id="bl" x="-10%" y="-10%" width="120%" height="120%"><feGaussianBlur stdDeviation="0.55"/></filter>
</defs>
<rect x="611.3" y="262.5" width="127.4" height="95.5" fill="#fbfbfb"/>
<rect x="611.8" y="263" width="126.4" height="94.5" fill="url(#vg)"/>
<g clip-path="url(#vc)"><g filter="url(#bl)">
<path d="M666 300.5 C662.5 291 664 277 669.5 272.3 C674.5 268.6 683.5 269 687 273.6 C691.5 280 691 292 689 301 L684 301.5 L671 301.5 Z" fill="#40241e"/>
<path d="M671.3 283 C671 277 674 274.5 678.5 274.5 C683 274.5 685.3 278 685 284 C684.8 291 682 297.5 678.3 297.8 C674.5 297.5 671.6 291 671.3 283 Z" fill="#cc9f8a"/>
<path d="M674.5 294 L682 294 L683 303 L673.5 303 Z" fill="#c2927e"/>
<path d="M656.5 358 L657 340 C653 338 652.5 334 653.5 328 L656 309 C657 303.5 661 301.8 667 301.5 L673.5 301 C676 304 680 304 683 301 L690 301.5 C696.5 302 700 304 701 309 L703 327 C703.5 333 703 336 698.5 338.5 L697 358 Z" fill="url(#sw)"/>
<path d="M657 338 C660 333 664 326 666 318 L671 318 C669 327 665 336 661 341 Z" fill="#b37680"/>
<path d="M698 337 C694 333 690 327 688 321 L683 321 C685 329 690 337 695 341 Z" fill="#b37680"/>
<path d="M660 317 C659.2 311 661 304 664 302 C667 301 670 303 671 308 C671.5 312 671 316 669.5 319 C667 320 662 320 660 317 Z" fill="#d9ad9a"/>
<path d="M680.2 320 C679.5 314 680.5 307 683.5 304.8 C687 304 690.5 306.5 691.5 311 C692 315 691.5 319 690 322 C687 323 682 323 680.2 320 Z" fill="#d9ad9a"/>
<path d="M673.2 281.3 L683.5 281.3" stroke="#5a3a33" stroke-width="0.5" fill="none"/>
</g></g>
<!-- bottom-left logo -->
<g filter="url(#bl)">
<g fill="#78372f" opacity="0.92">
<ellipse cx="67" cy="343.5" rx="2.4" ry="2.8"/><path d="M62.5 357 L62.8 350 C63 346.8 71 346.8 71.3 350 L71.5 357 Z"/>
<ellipse cx="74" cy="342.5" rx="2.4" ry="2.8"/><path d="M69.8 357 L70 349 C70.3 345.8 78 345.8 78.3 349 L78.5 357 Z"/>
<ellipse cx="84.5" cy="341.5" rx="2.5" ry="3"/><path d="M79.8 357 L80 348 C80.3 344.8 89 344.8 89.3 348 L89.5 357 Z"/>
<ellipse cx="91" cy="342.5" rx="2.4" ry="2.8"/><path d="M86.5 357 L86.8 349 C87 345.8 95 345.8 95.3 349 L95.5 357 Z"/>
<ellipse cx="97" cy="343.5" rx="2.3" ry="2.7"/><path d="M93 357 L93.2 350 C93.5 347 101 347 101.3 350 L101.5 357 Z"/>
</g>
<g fill="#d3b184" opacity="0.75">
<ellipse cx="67.2" cy="344" rx="1.2" ry="1.6"/><ellipse cx="74.2" cy="343" rx="1.2" ry="1.6"/><ellipse cx="84.5" cy="342" rx="1.3" ry="1.7"/><ellipse cx="91" cy="343" rx="1.2" ry="1.6"/><ellipse cx="96.8" cy="344" rx="1.1" ry="1.5"/>
<path d="M66.5 348 L67.8 348 L67.5 355 L66.8 355 Z"/><path d="M73.5 347 L74.8 347 L74.5 355 L73.8 355 Z"/><path d="M84 346 L85.3 346 L85 355 L84.3 355 Z"/><path d="M90.5 347 L91.8 347 L91.5 355 L90.8 355 Z"/><path d="M96.3 348 L97.5 348 L97.2 355 L96.6 355 Z"/>
</g>
<path d="M78.6 335.5 L79.6 335.5 L80.6 357 L77.6 357 Z" fill="#c9a76b"/>
<path d="M76 347 L82.5 345 L83 352 L76.5 354 Z" fill="#c9a76b" opacity="0.85"/>
<path d="M62 357.2 L101.5 357.2" stroke="#c9a76b" stroke-width="0.8"/>
</g>
<circle cx="81.7" cy="386" r="8" fill="none" stroke="#ece3d3" stroke-width="1.6" opacity="0.9"/>
<circle cx="81.7" cy="386" r="4.5" fill="#efe8db" opacity="0.7"/>
</svg>
<div id="bar"></div>
<div id="t1" class="abs">COVID-19: CASOS POR ENTIDAD FEDERATIVA</div>
<div id="t2" class="abs">09/04/2020</div>

<div id="salud" class="abs">SALUD</div>
<div id="sec" class="abs">SECRETARÍA DE SALUD</div>

<div class="abs lg" id="lgt" style="left:367px;top:97.8px;font-size:6.4px;color:#707070;">Numero de Casos Positivos</div>
<div class="sw" style="top:111.6px;background:linear-gradient(180deg,#9dbd55,#8db243)"></div>
<div class="sw" style="top:126.6px;background:linear-gradient(180deg,#68a53c,#5a962e)"></div>
<div class="sw" style="top:141.1px;background:linear-gradient(180deg,#f5b445,#efa530)"></div>
<div class="sw" style="top:155.4px;background:linear-gradient(180deg,#f37845,#ea6232)"></div>
<div class="sw" style="top:169.8px;background:linear-gradient(180deg,#9e3a2c,#8a271c)"></div>

<div class="abs lg" style="right:386.7px;top:113px;">1 a</div><div class="abs lg" style="right:366.5px;top:113px;">50</div><div class="abs lg" style="left:413.8px;top:113px;">(17 Estados)</div>
<div class="abs lg" style="right:386.7px;top:127.5px;">51 a</div><div class="abs lg" style="right:366.5px;top:127.5px;">100</div><div class="abs lg" style="left:418.8px;top:127.5px;">(5 Estados)</div>
<div class="abs lg" style="right:386.7px;top:142px;">101 a</div><div class="abs lg" style="right:366.5px;top:142px;">250</div><div class="abs lg" style="left:418.8px;top:142px;">(8 Estados)</div>
<div class="abs lg" style="right:386.7px;top:156.5px;">251 a</div><div class="abs lg" style="right:366.5px;top:156.5px;">500</div><div class="abs lg" style="left:418.8px;top:156.5px;">(1 Estado)</div>
<div class="abs lg" style="right:386.7px;top:171px;">501 a</div><div class="abs lg" style="right:366.5px;top:171px;">1000</div><div class="abs lg" style="left:418.8px;top:171px;">(1 Estado)</div>

<div class="box" style="top:115.2px;background:#c2140a;"><span>3,441</span></div>
<div class="abs lab" style="left:528.4px;top:151px;">CONFIRMADOS</div>
<div class="box" style="top:167.3px;background:#7b7b7b;"><span>10,105</span></div>
<div class="abs lab" style="left:529px;top:203.5px;">SOSPECHOSOS</div>
<div class="box" style="top:221.2px;background:#29468f;"><span>17,950</span></div>
<div class="abs lab" style="left:535px;top:258.6px;">NEGATIVOS</div>
<div class="box" style="top:273.4px;background:#000;"><span>194</span></div>
<div class="abs lab" style="left:532.8px;top:306.5px;">DEFUNCIONES</div>
<div class="box" style="top:321.2px;background:#b08c56;"><span>31,496</span></div>
<div class="abs lab" style="right:189.4px;top:356.4px;text-align:right;line-height:7.2px;white-space:normal;width:60px;font-size:6.1px;">TOTAL DE<br>PERSONAS<br>ESTUDIADAS</div>

<div class="abs" style="left:61.8px;top:362.4px;font-size:4.3px;font-weight:bold;color:#fff;letter-spacing:0.85px;text-shadow:0 0 1px #e9e4da;">GOBIERNO DE</div>
<div class="abs" style="left:61.3px;top:367.9px;font-size:8px;font-weight:bold;color:#fff;letter-spacing:1.55px;text-shadow:0 0 1.2px #e4ded2;">MÉXICO</div>
<div id="fuente" class="abs">Fuente: SSA(SPPS/DGE/DIE/InDRE/Informe técnico.COVID-19 /Mexico-09 de abril 2020 (corte 13: 30hrs)</div>
<div id="gold"></div>
</body></html>
